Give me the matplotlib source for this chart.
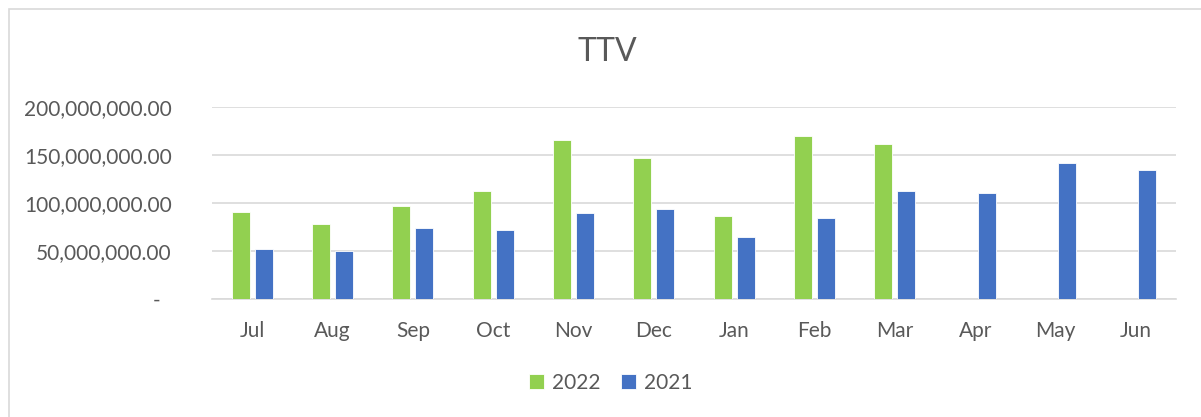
import matplotlib.pyplot as plt
from matplotlib.patches import Rectangle
from matplotlib.ticker import FuncFormatter
import numpy as np

months = ['Jul', 'Aug', 'Sep', 'Oct', 'Nov', 'Dec',
          'Jan', 'Feb', 'Mar', 'Apr', 'May', 'Jun']
ttv_2022 = [90.3e6, 77.9e6, 96.9e6, 112.8e6, 165.7e6, 146.7e6,
            86.5e6, 169.6e6, 161.9e6, np.nan, np.nan, np.nan]
ttv_2021 = [51.6e6, 50.2e6, 74.4e6, 72.3e6, 89.3e6, 93.8e6,
            64.4e6, 84.8e6, 112.5e6, 110.4e6, 141.5e6, 133.9e6]

plt.rcParams['font.family'] = ['Lato', 'DejaVu Sans']
text_color = '#595959'
grid_color = '#D9D9D9'

fig = plt.figure(figsize=(12.01, 4.17), dpi=100)
ax = fig.add_axes([212 / 1201, 1 - 299 / 417, (1176 - 212) / 1201, (299 - 107) / 417])

# chart outline like the spreadsheet chart frame
fig.patches.append(Rectangle((9 / 1201, -0.1), 1.2, 1 - 9 / 417 + 0.1,
                             transform=fig.transFigure, fill=False,
                             edgecolor=grid_color, linewidth=1.2))

x = np.arange(len(months))
width = 0.225
offset = 0.143
ax.bar(x - offset, ttv_2022, width, color='#92D050', edgecolor='white',
       linewidth=0.6, label='2022', zorder=3)
ax.bar(x + offset, ttv_2021, width, color='#4472C4', edgecolor='white',
       linewidth=0.6, label='2021', zorder=3)

ax.set_xlim(-0.5, len(months) - 0.5)
ax.set_ylim(0, 200e6)
ax.set_yticks([0, 50e6, 100e6, 150e6, 200e6])
ax.yaxis.set_major_formatter(FuncFormatter(
    lambda v, p: '-  ' if v == 0 else f'{v:,.2f}'))
ax.set_xticks(x)
ax.set_xticklabels(months)

ax.grid(axis='y', color=grid_color, linewidth=1.2, zorder=0)
for side in ['top', 'right', 'left']:
    ax.spines[side].set_visible(False)
ax.spines['bottom'].set_color(grid_color)
ax.spines['bottom'].set_linewidth(1.2)
ax.tick_params(axis='both', length=0, labelsize=15, labelcolor=text_color)
ax.tick_params(axis='y', pad=29)
ax.tick_params(axis='x', pad=16)

fig.text(607 / 1201, 1 - 52 / 417, 'TTV', ha='center', va='center',
         fontsize=23, color=text_color)

leg = fig.legend(loc='center', bbox_to_anchor=(611 / 1201, 1 - 383 / 417),
                 ncol=2, frameon=False, fontsize=15, handlelength=0.7,
                 handleheight=0.7, handletextpad=0.4, columnspacing=1.0)
for t in leg.get_texts():
    t.set_color(text_color)

fig.savefig('out.png', dpi=100)
